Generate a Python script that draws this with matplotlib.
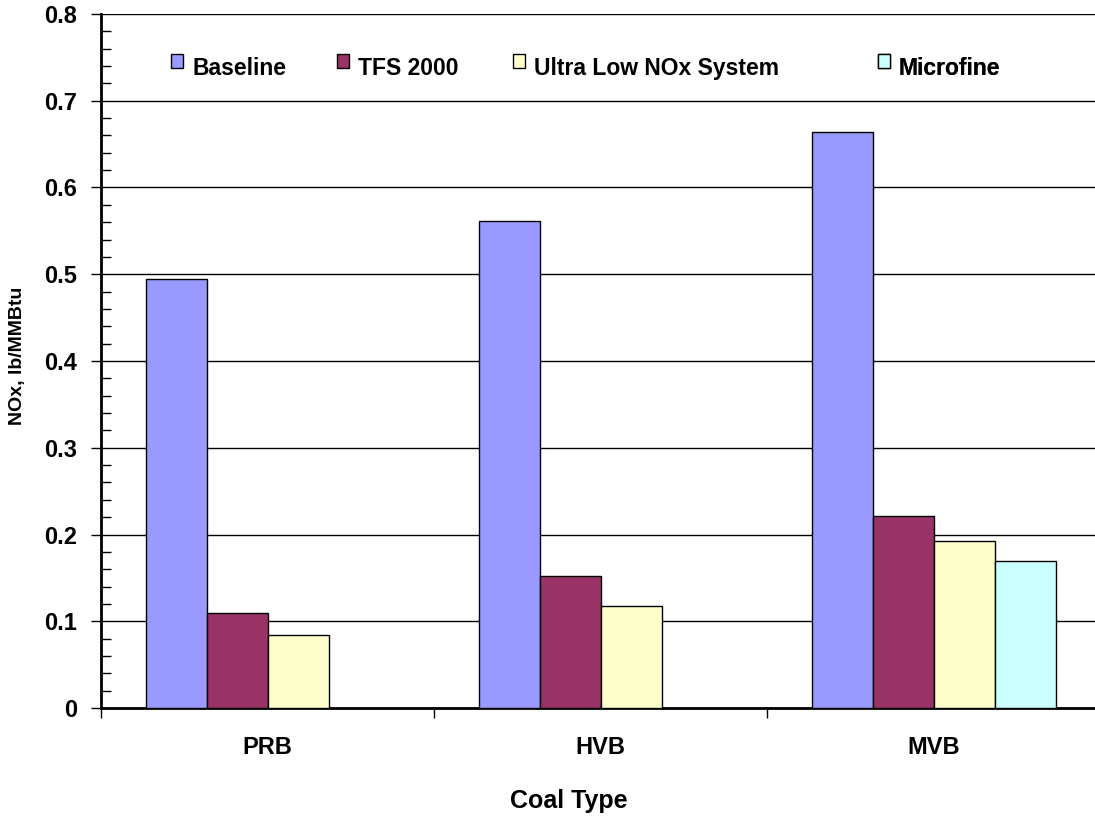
import numpy as np
import matplotlib.pyplot as plt
from matplotlib.ticker import MultipleLocator
from matplotlib.patches import Patch, Rectangle
from matplotlib.legend_handler import HandlerPatch

plt.rcParams['font.family'] = ['Liberation Sans', 'DejaVu Sans']
plt.rcParams['font.weight'] = 'bold'

### Data
coal = ['PRB', 'HVB', 'MVB']
series = ['Baseline', 'TFS 2000', 'Ultra Low NOx System', 'Microfine']
baseline = [0.494, 0.561, 0.664]
tfs2000 = [0.110, 0.152, 0.221]
ultra_low = [0.084, 0.118, 0.193]
microfine = [np.nan, np.nan, 0.169]
colors = ['#9999FF', '#993366', '#FFFFCC', '#CCFFFF']

### Figure
fig = plt.figure(figsize=(10.95, 8.17), dpi=100)
ax = fig.add_axes([0.0922, 0.1334, 0.913, 0.8495])

x = np.arange(len(coal))
w = 0.183
for i, vals in enumerate([baseline, tfs2000, ultra_low, microfine]):
    vals = np.array(vals, dtype=float)
    ok = ~np.isnan(vals)
    ax.bar(x[ok] + (i - 1.5) * w, vals[ok], w, color=colors[i], edgecolor='black',
           linewidth=1, zorder=3)

ax.set_xlim(-0.5, 2.5)
ax.set_ylim(0, 0.8)
ax.yaxis.set_minor_locator(MultipleLocator(0.02))
ax.set_yticks([0, 0.1, 0.2, 0.3, 0.4, 0.5, 0.6, 0.7, 0.8])
ax.set_yticklabels(['0', '0.1', '0.2', '0.3', '0.4', '0.5', '0.6', '0.7', '0.8'])
ax.grid(axis='y', which='major', color='black', linewidth=1, zorder=0)

ax.set_xticks([-0.5, 0.5, 1.5, 2.5])
ax.set_xticklabels([])
ax.set_xticks(x, minor=True)
ax.set_xticklabels(coal, minor=True)
ax.tick_params(axis='x', which='major', direction='out', length=7, width=1)
ax.tick_params(axis='x', which='minor', length=0, pad=20, labelsize=17)
ax.tick_params(axis='y', which='major', direction='out', length=7, width=1, labelsize=17, pad=10)
ax.tick_params(axis='y', which='minor', direction='in', length=7, width=1)

for s in ['top', 'right']:
    ax.spines[s].set_visible(False)
ax.spines['left'].set_linewidth(2)
ax.spines['bottom'].set_linewidth(2)

fig.text(18 / 1095, 1 - 356 / 817, 'NOx, lb/MMBtu', rotation=90, fontsize=14,
         fontweight='bold', ha='center', va='center')
fig.text(569 / 1095, 1 - 789 / 817, 'Coal Type', fontsize=18, fontweight='bold',
         ha='center', va='top')


# legend boxes sit a little above the text line
def raised_box(legend, orig_handle, xdescent, ydescent, width, height, fontsize):
    return Rectangle((-xdescent, -ydescent + 0.4 * height), width, height)


# legend entries sit at uneven spacing, one small legend per entry
leg_x = [0.070, 0.236, 0.412, 0.777]
for i, name in enumerate(series):
    leg = ax.legend(handles=[Patch(facecolor=colors[i], edgecolor='black', linewidth=1)],
                    labels=[name], loc='center left', bbox_to_anchor=(leg_x[i], 0.922),
                    frameon=False, fontsize=16.5, handlelength=0.52, handleheight=0.52,
                    handletextpad=0.4, borderpad=0, borderaxespad=0,
                    handler_map={Patch: HandlerPatch(patch_func=raised_box)})
    ax.add_artist(leg)

plt.savefig('out.png', dpi=100)
